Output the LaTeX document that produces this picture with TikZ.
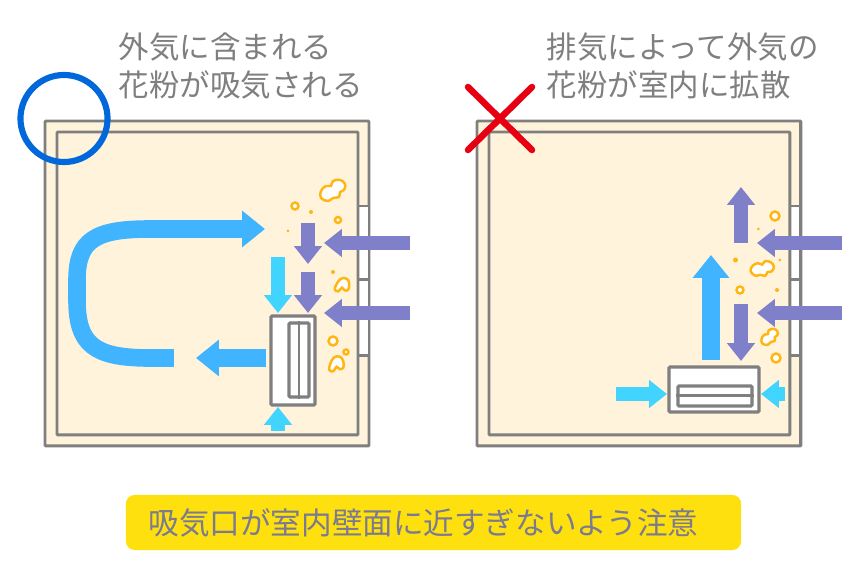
\documentclass[tikz,border=0pt]{standalone}
\usepackage{fontspec}
\setmainfont{Noto Sans CJK JP}
\definecolor{WallGray}{HTML}{7F7F7F}
\definecolor{RoomCream}{HTML}{FFF3DC}
\definecolor{FlowBlue}{HTML}{40B4FF}
\definecolor{FlowCyan}{HTML}{40D4FF}
\definecolor{FlowPurple}{HTML}{8080CA}
\definecolor{PollenOrange}{HTML}{FFB612}
\definecolor{MarkBlue}{HTML}{0068DB}
\definecolor{MarkRed}{HTML}{E60012}
\definecolor{NoteYellow}{HTML}{FFE00F}
\definecolor{NoteText}{HTML}{7A7A90}
\usetikzlibrary{arrows.meta}
\tikzset{
    % Heading text
    heading/.style={
        anchor=north west,
        align=left,
        inner sep=0pt,
        text=WallGray,
        font=\fontsize{8.67}{10.8}\selectfont
    },
    % Room walls
    wall/.style={
        draw=WallGray,
        line width=0.85pt
    },
    % Vent body
    vent/.style={
        rectangle,
        draw=WallGray,
        fill=white,
        rounded corners=0.3pt,
        line width=0.9pt,
        inner sep=0pt
    },
    % Outside air
    purpleflow/.style={
        draw=FlowPurple,
        line width=4pt,
        -{Triangle[length=5.1pt,width=7.7pt]}
    },
    % Air drawn into the vent
    cyanflow/.style={
        draw=FlowCyan,
        line width=4pt,
        -{Triangle[length=5.1pt,width=7.7pt]}
    },
    % Air moving through the room
    blueflow/.style={
        draw=FlowBlue,
        line width=5pt,
        -{Triangle[length=6.5pt,width=10pt]}
    },
    % Pollen
    pollen/.style={
        draw=PollenOrange,
        fill=white,
        line width=0.7pt
    },
    pollendot/.style={
        fill=PollenOrange
    },
    pollenblob/.pic={
        \draw [pollen] plot [smooth cycle, tension=0.7] coordinates {
            (-12,6) (-12,-1) (-7,-6) (-2,-6) (0,-11) (7,-12) (12,-8) (11,-2) (7,0) (6,5) (0,6) (-5,9)};
    },
    pollenlump/.pic={
        \draw [pollen] plot [smooth cycle, tension=0.7] coordinates {
            (-8,5) (-6,-1) (-1,-7) (5,-7) (8,-2) (7,5) (3,6) (0,3) (-4,7)};
    }
}

\begin{document}
\begin{tikzpicture}[x=0.01cm, y=-0.01cm]
    \useasboundingbox (0,0) rectangle (859,576);

    % Rooms
    \foreach \name/\left in {roomA/45, roomB/477} {
        \begin{scope}[xshift=\left*0.01cm]
            \draw [wall, fill=RoomCream, rounded corners=0.3pt] (0,121) rectangle (324,446);
            \fill [white] (313,206) rectangle (324,356);
            \draw [wall] (313,206) -- (324,206) (313,280) -- (324,280) (313,356) -- (324,356);
            \draw [wall] (324,121) -- (324,446);
            \draw [wall, rounded corners=0.3pt] (12,132) rectangle (313,435);
        \end{scope}
    }

    % Headings
    \node (headA) [heading] at (118,32) {外気に含まれる\\花粉が吸気される};
    \node (headB) [heading] at (546,32) {排気によって外気の\\花粉が室内に拡散};

    % Vents
    \node (ventA) [vent, minimum width=0.44cm, minimum height=0.89cm] at (293,360.5) {};
    \node (grilleA) [vent, minimum width=0.2cm, minimum height=0.74cm] at (299,360) {};
    \draw [wall] (grilleA.north) -- (grilleA.south);
    \node (ventB) [vent, minimum width=0.9cm, minimum height=0.45cm] at (714,389.5) {};
    \node (grilleB) [vent, minimum width=0.74cm, minimum height=0.2cm] at (715,396) {};
    \draw [wall] (grilleB.west) -- (grilleB.east);

    % Free ends of the arrows
    \coordinate (outA1) at (410,243);
    \coordinate (inA1) at (324,243);
    \coordinate (outA2) at (410,313);
    \coordinate (inA2) at (324,313);
    \coordinate (outB1) at (842,243);
    \coordinate (inB1) at (757,243);
    \coordinate (outB2) at (842,313);
    \coordinate (inB2) at (757,313);
    \coordinate (backA) at (266,358);
    \coordinate (tipA) at (196,358);

    % Left room, air flow
    \draw [purpleflow] (outA1) -- (inA1);
    \draw [purpleflow] (outA2) -- (inA2);
    \draw [purpleflow] (308,223) -- (308,264);
    \draw [purpleflow] (308,272) -- (308,313);
    \draw [cyanflow] (278,257) -- (278,313);
    \draw [cyanflow] (278,431) -- (278,407);
    \draw [blueflow] (backA) -- (tipA);
    \draw [blueflow] (174,358) -- (145,358) .. controls (95,357) and (77,345) .. (77,300)
        -- (77,280) .. controls (77,240) and (95,229) .. (150,229) -- (265,229);

    % Right room, air flow
    \draw [purpleflow] (outB1) -- (inB1);
    \draw [purpleflow] (outB2) -- (inB2);
    \draw [purpleflow] (741,243) -- (741,187);
    \draw [purpleflow] (741,304) -- (741,361);
    \draw [blueflow] (711,360) -- (711,255);
    \draw [cyanflow] (616,394) -- (667,394);
    \draw [cyanflow] (785,394) -- (761,394);

    % Pollen, left room
    \pic [scale=1] at (333,192) {pollenblob};
    \pic [scale=0.9] at (342,285) {pollenlump};
    \pic [scale=0.95, rotate=10] at (336,364) {pollenlump};
    \foreach \x/\y/\r in {295/206/3.5, 338/220/3, 333/341/4.5, 346/352/2.5} {
        \draw [pollen] (\x,\y) circle [radius=\r];
    }
    \foreach \x/\y/\r in {311/212/2, 288/231/1.5, 333/272/2} {
        \fill [pollendot] (\x,\y) circle [radius=\r];
    }

    % Pollen, right room
    \pic [scale=0.85, rotate=-20] at (762,270) {pollenblob};
    \pic [scale=0.7, rotate=10] at (770,338) {pollenblob};
    \foreach \x/\y/\r in {775/216/4.5, 740/290/3.5, 776/358/4.5} {
        \draw [pollen] (\x,\y) circle [radius=\r];
    }
    \foreach \x/\y/\r in {758.5/229/1.5, 735.5/260/2.5, 780/260/1.5, 777/290/2} {
        \fill [pollendot] (\x,\y) circle [radius=\r];
    }

    % Marks
    \node (okmark) [circle, draw=MarkBlue, line width=1.75pt, minimum size=0.87cm, inner sep=0pt] at (64,118.5) {};
    \coordinate (ngA) at (468,87);
    \coordinate (ngB) at (532,150);
    \coordinate (ngC) at (532,87);
    \coordinate (ngD) at (468,150);
    \draw [MarkRed, line width=1.85pt, line cap=round] (ngA) -- (ngB);
    \draw [MarkRed, line width=1.85pt, line cap=round] (ngC) -- (ngD);

    % Note
    \node (notebox) [rectangle, fill=NoteYellow, rounded corners=2.5pt, minimum width=6.15cm, minimum height=0.55cm,
        inner sep=0pt] at (433.5,522.5) {};
    \node (note) [text=NoteText, font=\fontsize{8.7}{10}\selectfont, inner sep=0pt] at (423.5,522.5)
        {吸気口が室内壁面に近すぎないよう注意};
\end{tikzpicture}
\end{document}
